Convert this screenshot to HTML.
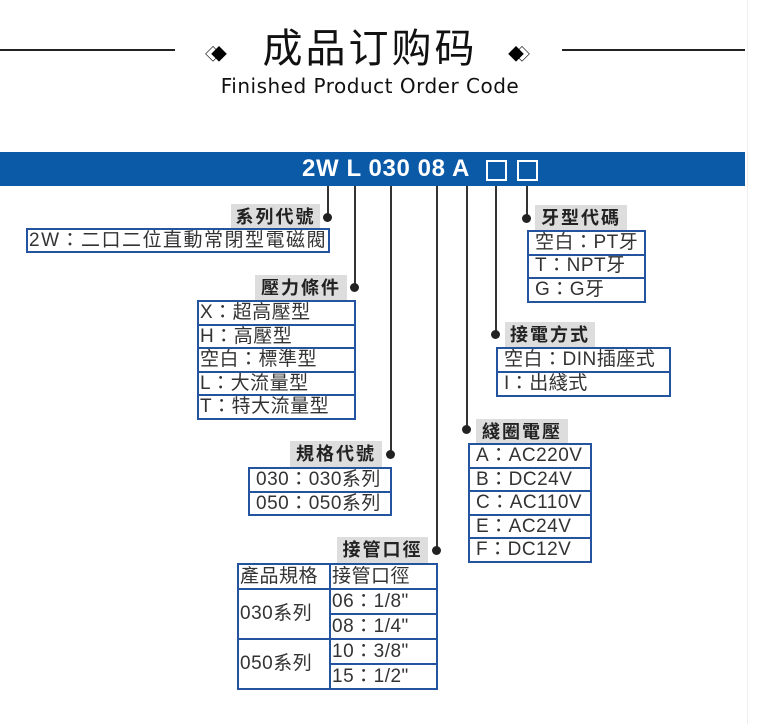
<!DOCTYPE html>
<html><head><meta charset="utf-8"><style>
body{margin:0;width:757px;height:724px;background:#fff;position:relative;overflow:hidden;font-family:"Liberation Sans","Noto Sans CJK TC",sans-serif;}
.a{position:absolute}
.ln{position:absolute;background:#333;width:2px}
.dot{position:absolute;width:9px;height:9px;border-radius:50%;background:#222}
.lab{position:absolute;background:#ddd;font-weight:bold;font-size:18px;color:#222;text-align:center;line-height:26px;letter-spacing:2px}
table{position:absolute;border-collapse:collapse;font-size:19px;color:#333;letter-spacing:0.5px}
td{border:2px solid #2454a0;padding:0 1px;white-space:nowrap;line-height:20px}
.t5 td{height:21.5px;line-height:21px}
.sq{position:absolute;width:17px;height:17px;border:2px solid #fff;top:160px}
</style></head><body>
<div class="a" style="left:0;top:49px;width:175px;height:2px;background:#222"></div>
<div class="a" style="left:562px;top:49px;width:183px;height:2px;background:#222"></div>
<div class="a" style="left:205px;top:41px;font-size:16px">◇</div><div class="a" style="left:211px;top:41px;font-size:16px">◆</div>
<div class="a" style="left:508px;top:41px;font-size:16px">◆</div><div class="a" style="left:514px;top:41px;font-size:16px">◇</div>
<div class="a" style="left:255px;top:24px;width:230px;text-align:center;font-size:40px;line-height:50px;color:#111;letter-spacing:3px">成品订购码</div>
<div class="a" style="left:207px;top:74px;width:326px;text-align:center;font-size:20px;color:#111;font-family:'DejaVu Sans',sans-serif;letter-spacing:0.5px">Finished Product Order Code</div>
<div class="a" style="left:0;top:152px;width:745px;height:34px;background:#0b5aa8"></div>
<div class="a" style="left:302px;top:153px;font-size:24px;font-weight:bold;color:#fff;line-height:32px;white-space:nowrap;letter-spacing:0.6px">2W L 030 08 A</div>
<div class="sq" style="left:486px"></div><div class="sq" style="left:517px"></div>
<div class="a" style="left:747px;top:0;width:1px;height:724px;background:#eee"></div>

<div class="ln" style="left:327px;top:186px;height:32px"></div><div class="dot" style="left:323px;top:213px"></div>
<div class="lab" style="left:231px;top:204px;width:89px">系列代號</div>
<table style="left:26px;top:228px;width:302px"><tr><td style="height:21px;letter-spacing:1.5px">2W：二口二位直動常閉型電磁閥</td></tr></table>

<div class="ln" style="left:354px;top:186px;height:101px"></div><div class="dot" style="left:350px;top:283px"></div>
<div class="lab" style="left:255px;top:275px;width:92px">壓力條件</div>
<table class="t5" style="left:197px;top:300px;width:159px"><tr><td>X：超高壓型</td></tr><tr><td>H：高壓型</td></tr><tr><td>空白：標準型</td></tr><tr><td>L：大流量型</td></tr><tr><td>T：特大流量型</td></tr></table>

<div class="ln" style="left:390px;top:186px;height:268px"></div><div class="dot" style="left:386px;top:450px"></div>
<div class="lab" style="left:290px;top:441px;width:92px">規格代號</div>
<table class="t5" style="left:248px;top:467px;width:144px"><tr><td style="padding-left:6px">030：030系列</td></tr><tr><td style="padding-left:6px">050：050系列</td></tr></table>

<div class="ln" style="left:436px;top:186px;height:364px"></div><div class="dot" style="left:432px;top:546px"></div>
<div class="lab" style="left:337px;top:537px;width:91px">接管口徑</div>
<table style="left:237px;top:563px;width:201px"><tr><td style="width:88px;height:23px">產品規格</td><td style="height:23px">接管口徑</td></tr>
<tr><td rowspan="2">030系列</td><td style="height:23px">06：1/8"</td></tr><tr><td style="height:23px">08：1/4"</td></tr>
<tr><td rowspan="2">050系列</td><td style="height:23px">10：3/8"</td></tr><tr><td style="height:23px">15：1/2"</td></tr></table>

<div class="ln" style="left:466px;top:186px;height:243px"></div><div class="dot" style="left:462px;top:425px"></div>
<div class="lab" style="left:476px;top:419px;width:92px">綫圈電壓</div>
<table class="t5" style="left:468px;top:443px;width:124px"><tr><td style="padding-left:6px">A：AC220V</td></tr><tr><td style="padding-left:6px">B：DC24V</td></tr><tr><td style="padding-left:6px">C：AC110V</td></tr><tr><td style="padding-left:6px">E：AC24V</td></tr><tr><td style="padding-left:6px">F：DC12V</td></tr></table>

<div class="ln" style="left:495px;top:186px;height:148px"></div><div class="dot" style="left:491px;top:330px"></div>
<div class="lab" style="left:505px;top:322px;width:90px">接電方式</div>
<table style="left:496px;top:347px;width:175px"><tr><td style="padding-left:6px;height:22px">空白：DIN插座式</td></tr><tr><td style="padding-left:6px;height:22px">I：出綫式</td></tr></table>

<div class="ln" style="left:526px;top:186px;height:32px"></div><div class="dot" style="left:522px;top:214px"></div>
<div class="lab" style="left:535px;top:205px;width:92px">牙型代碼</div>
<table style="left:527px;top:230px;width:119px"><tr><td style="padding-left:6px;height:21.5px">空白：PT牙</td></tr><tr><td style="padding-left:6px;height:21.5px">T：NPT牙</td></tr><tr><td style="padding-left:6px;height:21.5px">G：G牙</td></tr></table>
</body></html>
